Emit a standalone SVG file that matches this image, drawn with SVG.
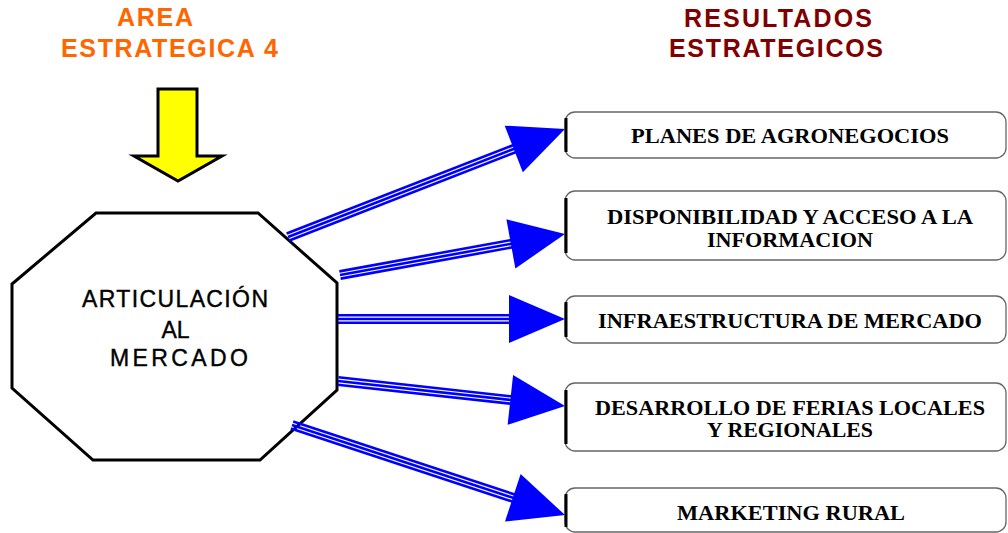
<svg xmlns="http://www.w3.org/2000/svg" width="1008" height="533" viewBox="0 0 1008 533">
<style>
.t1{font-family:"Liberation Sans",Arial,sans-serif;font-weight:bold;font-size:25px;fill:#FF6600;text-anchor:middle}
.t2{font-family:"Liberation Sans",Arial,sans-serif;font-weight:bold;font-size:25px;fill:#800000;text-anchor:middle}
.oct{fill:#fff;stroke:#000;stroke-width:3;stroke-linejoin:miter}
.otx{font-family:"Liberation Sans",Arial,sans-serif;font-size:23px;fill:#000;text-anchor:middle;stroke:#000;stroke-width:0.4}
.box{fill:#fff;stroke:#666;stroke-width:1.3}
.edge{stroke:#000;stroke-width:3}
.btx{font-family:"Liberation Serif","Times New Roman",serif;font-weight:bold;font-size:21px;fill:#000;text-anchor:middle}
.sh{stroke:#0000FF;stroke-width:2.6;fill:none}
.hd{fill:#0000FF}
</style>
<rect width="1008" height="533" fill="#fff"/>
<g id="title-area">
<text class="t1" x="155" y="26" textLength="76" lengthAdjust="spacing">AREA</text>
<text class="t1" x="169.5" y="57" textLength="217" lengthAdjust="spacing">ESTRATEGICA 4</text>
</g>
<g id="title-resultados">
<text class="t2" x="778" y="27" textLength="188" lengthAdjust="spacing">RESULTADOS</text>
<text class="t2" x="776" y="57" textLength="214" lengthAdjust="spacing">ESTRATEGICOS</text>
</g>
<g id="yellow-arrow">
<polygon points="158,89 197,89 197,156 222,156 178,181 134,156 158,156" fill="#FFFF00" stroke="#000" stroke-width="3"/>
</g>
<g id="node-articulacion">
<polygon class="oct" points="96,213 258,213 337,283 337,390 260,460 93,460 12,388 12,284"/>
<text class="otx" x="175" y="307" textLength="186" lengthAdjust="spacing">ARTICULACIÓN</text>
<text class="otx" x="175.5" y="338">AL</text>
<text class="otx" x="179" y="366" textLength="138" lengthAdjust="spacing">MERCADO</text>
</g>
<g id="connectors">
<g transform="translate(288,237) rotate(-21.30)">
<line class="sh" x1="0" y1="-3.7" x2="245" y2="-3.7"/><line class="sh" x1="0" y1="0" x2="245" y2="0"/><line class="sh" x1="0" y1="3.7" x2="245" y2="3.7"/>
<polygon class="hd" points="242.3,-25 297.3,0 242.3,25"/>
</g>
<g transform="translate(340,275) rotate(-10.33)">
<line class="sh" x1="0" y1="-3.7" x2="176" y2="-3.7"/><line class="sh" x1="0" y1="0" x2="176" y2="0"/><line class="sh" x1="0" y1="3.7" x2="176" y2="3.7"/>
<polygon class="hd" points="173.7,-25 228.7,0 173.7,25"/>
</g>
<g transform="translate(338,319)">
<line class="sh" x1="0" y1="-3.7" x2="174" y2="-3.7"/><line class="sh" x1="0" y1="0" x2="174" y2="0"/><line class="sh" x1="0" y1="3.7" x2="174" y2="3.7"/>
<polygon class="hd" points="171,-24 227,0 171,24"/>
</g>
<g transform="translate(338,381) rotate(6.28)">
<line class="sh" x1="0" y1="-3.7" x2="176" y2="-3.7"/><line class="sh" x1="0" y1="0" x2="176" y2="0"/><line class="sh" x1="0" y1="3.7" x2="176" y2="3.7"/>
<polygon class="hd" points="173.4,-25 228.4,0 173.4,25"/>
</g>
<g transform="translate(292,425) rotate(18.25)">
<line class="sh" x1="0" y1="-3.7" x2="235" y2="-3.7"/><line class="sh" x1="0" y1="0" x2="235" y2="0"/><line class="sh" x1="0" y1="3.7" x2="235" y2="3.7"/>
<polygon class="hd" points="232.5,-25 287.5,0 232.5,25"/>
</g>
</g>
<g id="node-planes">
<rect class="box" x="565" y="112" width="441" height="46" rx="10"/>
<line class="edge" x1="566" y1="118" x2="566" y2="152"/>
<text class="btx" x="790" y="143" textLength="318" lengthAdjust="spacingAndGlyphs">PLANES DE AGRONEGOCIOS</text>
</g>
<g id="node-disponibilidad">
<rect class="box" x="565" y="191" width="441" height="69" rx="10"/>
<line class="edge" x1="566" y1="198" x2="566" y2="253"/>
<text class="btx" x="790" y="224" textLength="366" lengthAdjust="spacingAndGlyphs">DISPONIBILIDAD Y ACCESO A LA</text>
<text class="btx" x="790" y="247" textLength="166" lengthAdjust="spacingAndGlyphs">INFORMACION</text>
</g>
<g id="node-infraestructura">
<rect class="box" x="565" y="296" width="441" height="47" rx="10"/>
<line class="edge" x1="566" y1="302" x2="566" y2="337"/>
<text class="btx" x="790" y="328" textLength="384" lengthAdjust="spacingAndGlyphs">INFRAESTRUCTURA DE MERCADO</text>
</g>
<g id="node-ferias">
<rect class="box" x="565" y="383" width="441" height="68" rx="10"/>
<line class="edge" x1="566" y1="390" x2="566" y2="444"/>
<text class="btx" x="790" y="415" textLength="390" lengthAdjust="spacingAndGlyphs">DESARROLLO DE FERIAS LOCALES</text>
<text class="btx" x="790" y="437" textLength="166" lengthAdjust="spacingAndGlyphs">Y REGIONALES</text>
</g>
<g id="node-marketing">
<rect class="box" x="565" y="488" width="441" height="44" rx="10"/>
<line class="edge" x1="566" y1="494" x2="566" y2="527"/>
<text class="btx" x="791" y="520" textLength="228" lengthAdjust="spacingAndGlyphs">MARKETING RURAL</text>
</g>
</svg>
